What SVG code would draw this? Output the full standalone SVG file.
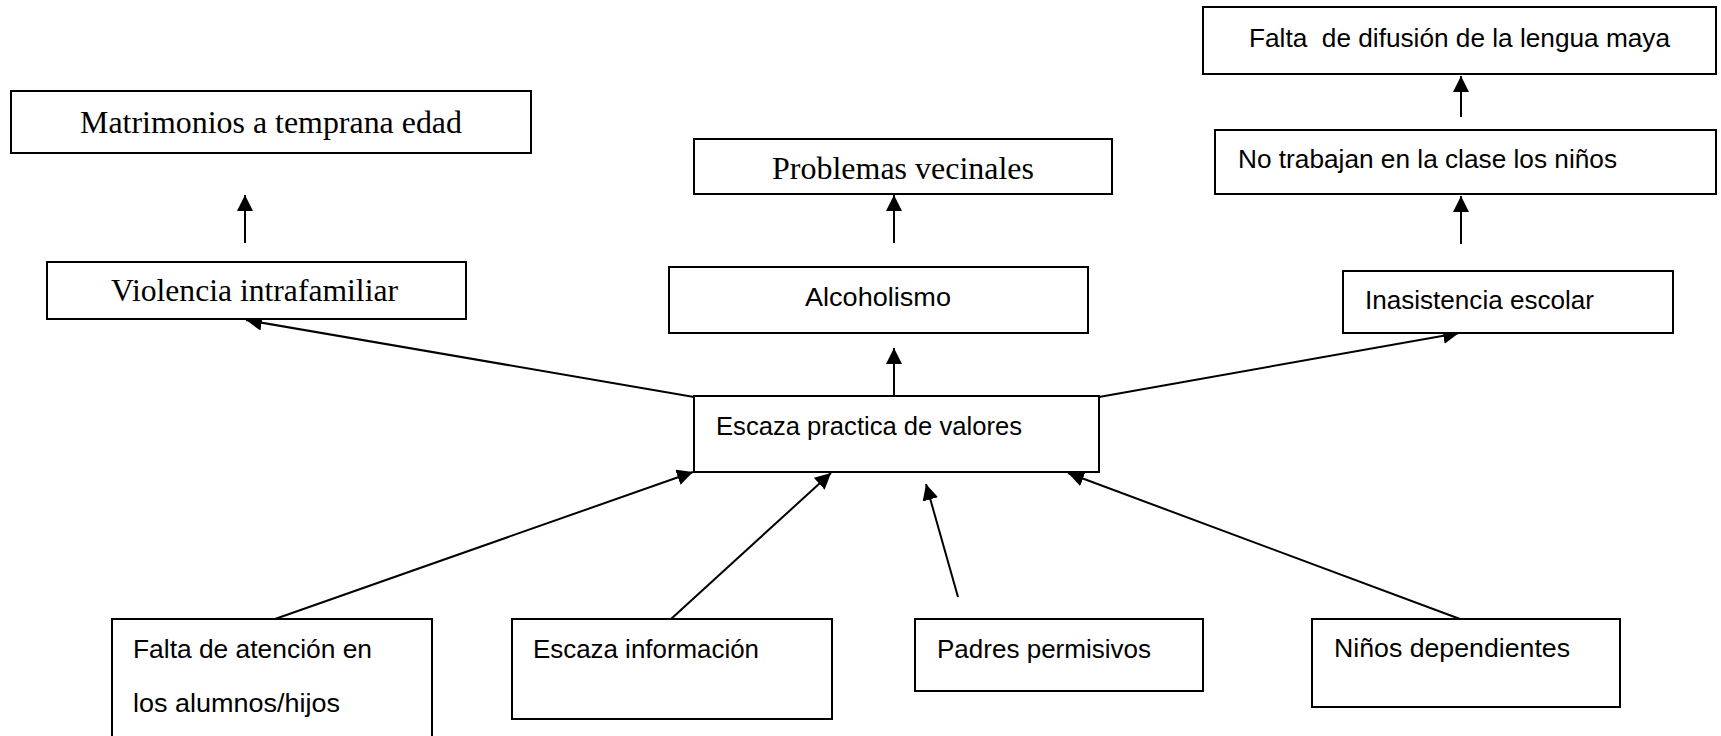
<svg xmlns="http://www.w3.org/2000/svg" width="1721" height="736" viewBox="0 0 1721 736">
<style>
.box{fill:#fff;stroke:#000;stroke-width:2}
.serif{font-family:"Liberation Serif","Times New Roman",serif;font-size:32px;fill:#000}
.sans{font-family:"Liberation Sans",Arial,sans-serif;font-size:26.5px;fill:#000}
.conn{stroke:#000;stroke-width:2;fill:none;marker-end:url(#arr)}
</style>
<defs>
<marker id="arr" viewBox="0 0 16 16" refX="16" refY="8" markerWidth="16" markerHeight="16" markerUnits="userSpaceOnUse" orient="auto">
<path d="M0,0 L16,8 L0,16 z" fill="#000"/>
</marker>
</defs>
<rect width="1721" height="736" fill="#fff"/>
<g id="connectors">
<line class="conn" x1="245" y1="243" x2="245" y2="195"/>
<line class="conn" x1="894" y1="243" x2="894" y2="195"/>
<line class="conn" x1="894" y1="396" x2="894" y2="348"/>
<line class="conn" x1="1461" y1="244" x2="1461" y2="196"/>
<line class="conn" x1="1461" y1="117" x2="1461" y2="76"/>
<line class="conn" x1="694" y1="397" x2="246" y2="320"/>
<line class="conn" x1="1099" y1="397" x2="1459" y2="333"/>
<line class="conn" x1="275" y1="619" x2="693" y2="472"/>
<line class="conn" x1="671" y1="619" x2="831" y2="473"/>
<line class="conn" x1="958" y1="597" x2="926" y2="484"/>
<line class="conn" x1="1460" y1="619" x2="1068" y2="473"/>
</g>
<g id="matrimonios">
<rect class="box" x="11" y="91" width="520" height="62"/>
<text class="serif" x="80" y="133" textLength="382" lengthAdjust="spacingAndGlyphs">Matrimonios a temprana edad</text>
</g>
<g id="violencia">
<rect class="box" x="47" y="262" width="419" height="57"/>
<text class="serif" x="111" y="301" textLength="287" lengthAdjust="spacingAndGlyphs">Violencia intrafamiliar</text>
</g>
<g id="problemas">
<rect class="box" x="694" y="139" width="418" height="55"/>
<text class="serif" x="772" y="179" textLength="262" lengthAdjust="spacingAndGlyphs">Problemas vecinales</text>
</g>
<g id="alcoholismo">
<rect class="box" x="669" y="267" width="419" height="66"/>
<text class="sans" x="805" y="306" textLength="146" lengthAdjust="spacingAndGlyphs">Alcoholismo</text>
</g>
<g id="escaza-practica">
<rect class="box" x="694" y="396" width="405" height="76"/>
<text class="sans" x="716" y="435" textLength="306" lengthAdjust="spacingAndGlyphs">Escaza practica de valores</text>
</g>
<g id="falta-difusion">
<rect class="box" x="1203" y="7" width="513" height="67"/>
<text class="sans" x="1249" y="47" textLength="421" lengthAdjust="spacingAndGlyphs" xml:space="preserve">Falta  de difusión de la lengua maya</text>
</g>
<g id="no-trabajan">
<rect class="box" x="1215" y="130" width="501" height="64"/>
<text class="sans" x="1238" y="168" textLength="379" lengthAdjust="spacingAndGlyphs">No trabajan en la clase los niños</text>
</g>
<g id="inasistencia">
<rect class="box" x="1343" y="271" width="330" height="62"/>
<text class="sans" x="1365" y="309" textLength="229" lengthAdjust="spacingAndGlyphs">Inasistencia escolar</text>
</g>
<g id="falta-atencion">
<rect class="box" x="112" y="619" width="320" height="140"/>
<text class="sans" x="133" y="658" textLength="239" lengthAdjust="spacingAndGlyphs">Falta de atención en</text>
<text class="sans" x="133" y="712" textLength="207" lengthAdjust="spacingAndGlyphs">los alumnos/hijos</text>
</g>
<g id="escaza-informacion">
<rect class="box" x="512" y="619" width="320" height="100"/>
<text class="sans" x="533" y="658" textLength="226" lengthAdjust="spacingAndGlyphs">Escaza información</text>
</g>
<g id="padres">
<rect class="box" x="915" y="619" width="288" height="72"/>
<text class="sans" x="937" y="658" textLength="214" lengthAdjust="spacingAndGlyphs">Padres permisivos</text>
</g>
<g id="ninos">
<rect class="box" x="1312" y="619" width="308" height="88"/>
<text class="sans" x="1334" y="657" textLength="236" lengthAdjust="spacingAndGlyphs">Niños dependientes</text>
</g>
</svg>
